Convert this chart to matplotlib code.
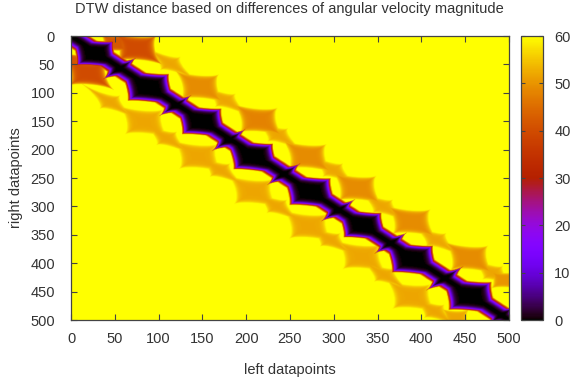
import numpy as np
import matplotlib
matplotlib.use('Agg')
import matplotlib.pyplot as plt
from matplotlib.colors import ListedColormap

plt.rcParams['font.family'] = ['Liberation Sans', 'DejaVu Sans']
text_color = '#333333'
border_color = '#444444'

# Large dark lobes on the diagonal
big_x = [27, 88, 149, 208, 273, 333, 390, 456]
big_y = [30, 90, 150, 212, 274, 333, 393, 458]
big_t = [22, 24, 23, 23, 24, 22, 24, 25]
big_s = [30, 36, 34, 36, 36, 34, 36, 36]

# Narrow spiked lobes between them
small_x = [55, 119, 180, 243, 305, 365, 427, 492]
small_y = [57, 122, 183, 243, 307, 365, 427, 492]
small_t = [20, 19, 20, 20, 20, 19, 22, 17]
small_s = [20, 19, 19, 19, 19, 19, 19, 20]

# Orange lobes off the diagonal, floor is the lowest value in the lobe
orange_x = [75, 50, 147, 214, 270, 327, 389, 455, 495,
            19, 8, 83, 145, 208, 271, 332, 389, 440]
orange_y = [21, 12, 89, 148, 212, 268, 327, 391, 430,
            65, 45, 151, 212, 274, 335, 389, 459, 497]
orange_floor = [40, 42, 49, 48, 49, 49, 49, 49, 50,
                40, 42, 52, 52, 52, 52, 52, 52, 52]
orange_t = [23, 17, 22, 22, 22, 22, 22, 22, 15,
            22, 14, 22, 22, 22, 22, 22, 22, 15]
orange_s = [30, 17, 30, 30, 30, 30, 30, 30, 17,
            30, 17, 30, 30, 30, 30, 30, 30, 17]

# Thin links between the orange lobes
link_x = [113, 176, 236, 299, 356, 417, 482,
          44, 109, 170, 235, 296, 358, 415]
link_y = [48, 113, 174, 236, 300, 359, 417,
          116, 180, 236, 300, 359, 421, 485]

x_ticks = [0, 50, 100, 150, 200, 250, 300, 350, 400, 450, 500]
y_ticks = [0, 50, 100, 150, 200, 250, 300, 350, 400, 450, 500]
cbar_ticks = [0, 10, 20, 30, 40, 50, 60]


def star(xx, yy, cx, cy, t_size, s_size, p):
    # radius in a frame turned along the diagonal, star shaped for p < 1
    s = np.abs((xx - cx) + (yy - cy)) / 2 / s_size
    t = np.abs((xx - cx) - (yy - cy)) / 2 / t_size
    return (s ** p + t ** p) ** (1 / p)


xx, yy = np.meshgrid(np.arange(501.0), np.arange(501.0))
field = np.full(xx.shape, 60.0)

for cx, cy, fl, ts, ss in zip(orange_x, orange_y, orange_floor, orange_t, orange_s):
    r = np.clip(star(xx, yy, cx, cy, ts, ss, 0.75), 0, 1)
    field = np.minimum(field, fl + (60 - fl) * r ** 6)

for cx, cy in zip(link_x, link_y):
    r = np.clip(star(xx, yy, cx, cy, 12, 36, 0.65), 0, 1)
    field = np.minimum(field, 52 + 8 * r ** 4)

for cx, cy, ts, ss in zip(big_x, big_y, big_t, big_s):
    r = np.clip(star(xx, yy, cx, cy, ts, ss, 0.85), 0, 1)
    field = np.minimum(field, 60 * r ** 8)

for cx, cy, ts, ss in zip(small_x, small_y, small_t, small_s):
    r = np.clip(star(xx, yy, cx, cy, ts, ss, 0.65), 0, 1)
    field = np.minimum(field, 60 * r ** 5)

# dark band along the diagonal
band = np.clip(np.abs(xx - yy) / 22, 0, 1)
field = np.minimum(field, 60 * band ** 3)

# gnuplot default palette
g = np.linspace(0, 1, 256)
palette = ListedColormap(np.column_stack([np.sqrt(g), g ** 3,
                                          np.clip(np.sin(2 * np.pi * g), 0, 1)]))

fig = plt.figure(figsize=(5.72, 3.80), dpi=100)
ax = fig.add_axes([71 / 572, 1 - 320 / 380, 438 / 572, 284 / 380])
im = ax.imshow(field, cmap=palette, vmin=0, vmax=60, origin='upper',
               extent=[0, 500, 500, 0], aspect='auto', interpolation='bilinear')

ax.set_xticks(x_ticks)
ax.set_yticks(y_ticks)
ax.tick_params(direction='in', top=True, right=True, length=4, width=0.8,
               color=border_color, labelcolor=text_color, labelsize=10.5)
ax.tick_params(axis='x', pad=8.5)
ax.tick_params(axis='y', pad=11.5)
ax.set_xlabel('left datapoints', fontsize=10.5, color=text_color, labelpad=12.5)
ax.set_ylabel('right datapoints', fontsize=10.5, color=text_color, labelpad=5.5)
fig.text(289 / 572, 1 - 9 / 380, 'DTW distance based on differences of angular velocity magnitude',
         ha='center', va='center', fontsize=10.5, color=text_color)

cax = fig.add_axes([520.5 / 572, 1 - 320 / 380, 22 / 572, 284 / 380])
cbar = fig.colorbar(im, cax=cax)
cbar.set_ticks(cbar_ticks)
cax.tick_params(direction='in', left=True, right=True, length=3, width=0.8,
                color=border_color, labelcolor=text_color, labelsize=10.5, pad=8.5)

for a in [ax, cax]:
    for spine in a.spines.values():
        spine.set_color(border_color)
        spine.set_linewidth(0.9)

fig.savefig('out.png', dpi=100)
